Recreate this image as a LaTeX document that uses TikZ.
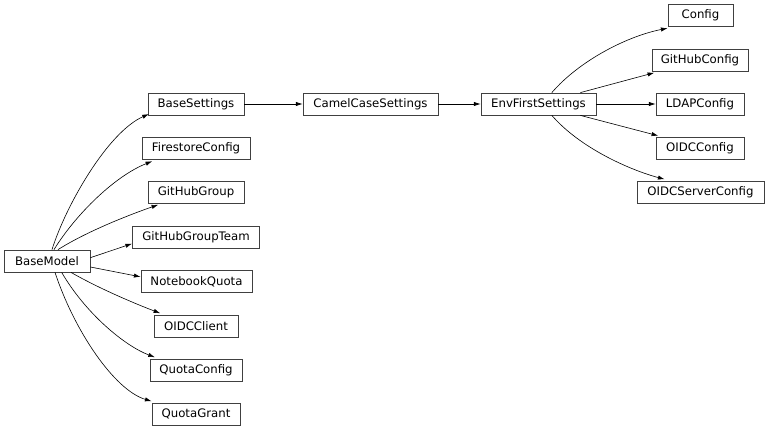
\documentclass[tikz,border=0pt]{standalone}
\usepackage{fontspec}
\setmainfont{DejaVu Sans}
\usetikzlibrary{arrows.meta}
\tikzset{
  cls/.style={draw=black!75, line width=0.6pt, rectangle, inner sep=0pt, minimum height=16.5pt, font=\fontsize{8.8}{10}\selectfont},
  edge/.style={draw=black, line width=0.45pt, -{Latex[length=5pt,width=3.2pt]}}
}
\begin{document}
\begin{tikzpicture}[x=0.75pt,y=-0.75pt]
\useasboundingbox (0,0) rectangle (768,432);
% nodes
\node[cls, minimum width=64.5pt] (bm) at (47,261) {BaseModel};
\node[cls, minimum width=72pt] (bs) at (196,104) {BaseSettings};
\node[cls, minimum width=81pt] (fc) at (196,148.5) {FirestoreConfig};
\node[cls, minimum width=72pt] (ghg) at (196,192) {GitHubGroup};
\node[cls, minimum width=95.25pt] (ght) at (196,237) {GitHubGroupTeam};
\node[cls, minimum width=83.25pt] (nq) at (196.5,281.5) {NotebookQuota};
\node[cls, minimum width=63pt] (oc) at (196,326) {OIDCClient};
\node[cls, minimum width=69pt] (qc) at (196,370) {QuotaConfig};
\node[cls, minimum width=66pt] (qg) at (196,414) {QuotaGrant};
\node[cls, minimum width=101.25pt] (ccs) at (370.5,104) {CamelCaseSettings};
\node[cls, minimum width=86.25pt] (efs) at (538.5,104) {EnvFirstSettings};
\node[cls, minimum width=48.75pt] (cfg) at (700.5,15.5) {Config};
\node[cls, minimum width=72pt] (ghc) at (700,60) {GitHubConfig};
\node[cls, minimum width=66pt] (ldap) at (700,104) {LDAPConfig};
\node[cls, minimum width=66pt] (oidc) at (700,148.5) {OIDCConfig};
\node[cls, minimum width=95.25pt] (oidcs) at (700.5,192) {OIDCServerConfig};
% edges from BaseModel
\draw[edge] ([xshift=3.75pt]bm.north) .. controls (66,205) and (108,132) .. ([xshift=1pt,yshift=1pt]bs.south west);
\draw[edge] ([xshift=5.25pt]bm.north) .. controls (76,214) and (115,176) .. ([xshift=8pt,yshift=-1pt]fc.south west);
\draw[edge] ([xshift=8.25pt]bm.north) .. controls (86,232) and (126,216) .. ([xshift=8pt,yshift=-1pt]ghg.south west);
\draw[edge] ([yshift=2.5pt]bm.east) -- ([yshift=-5pt]ght.west);
\draw[edge] ([yshift=-4.5pt]bm.east) -- ([yshift=3.5pt]nq.west);
\draw[edge] ([xshift=18pt]bm.south) .. controls (100,289) and (136,304) .. ([xshift=5pt,yshift=1pt]oc.north west);
\draw[edge] ([xshift=11pt]bm.south) .. controls (86,314) and (125,346) .. ([xshift=4pt,yshift=1pt]qc.north west);
\draw[edge] ([xshift=6pt]bm.south) .. controls (74,330) and (114,390) .. ([xshift=0pt,yshift=1pt]qg.north west);
% chain
\draw[edge] (bs) -- (ccs);
\draw[edge] (ccs) -- (efs);
\draw[edge] (efs) -- (ldap);
% from EnvFirstSettings
\draw[edge] ([xshift=10pt]efs.north) .. controls (580,60) and (628,36) .. ([yshift=-1pt]cfg.south west);
\draw[edge] ([xshift=-12pt]efs.north east) -- ([xshift=2pt,yshift=-1pt]ghc.south west);
\draw[edge] ([xshift=-12pt]efs.south east) -- ([xshift=2pt,yshift=1pt]oidc.north west);
\draw[edge] ([xshift=10pt]efs.south) .. controls (580,148) and (630,170) .. ([xshift=21pt,yshift=1pt]oidcs.north west);
\end{tikzpicture}
\end{document}
